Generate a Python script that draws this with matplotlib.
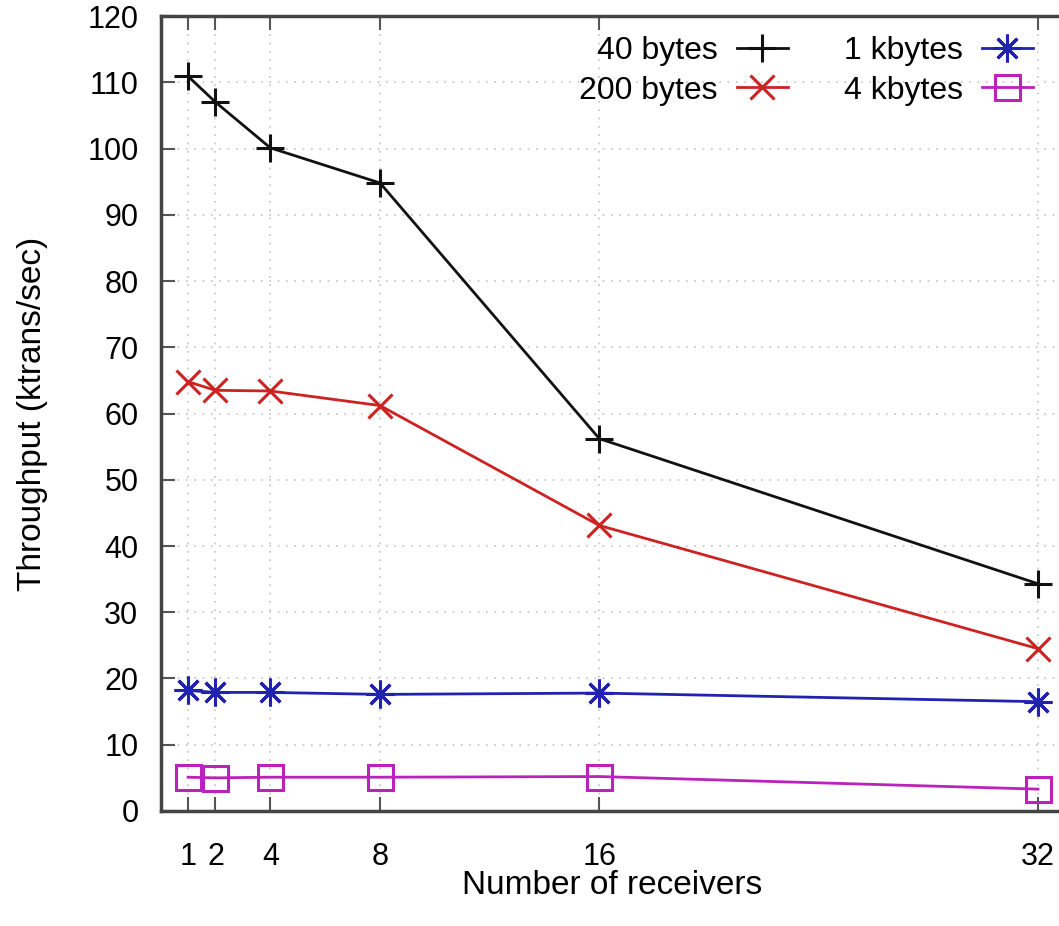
import matplotlib
matplotlib.use('Agg')
import matplotlib.pyplot as plt

# data
receivers = [1, 2, 4, 8, 16, 32]
tput_40b = [110.9, 107.0, 100.1, 94.8, 56.2, 34.3]
tput_200b = [64.8, 63.5, 63.4, 61.2, 43.1, 24.5]
tput_1k = [18.2, 17.9, 17.9, 17.6, 17.8, 16.5]
tput_4k = [5.1, 5.0, 5.1, 5.1, 5.2, 3.3]
labels = ['40 bytes', '200 bytes', '1 kbytes', '4 kbytes']

plt.rcParams['font.family'] = ['Liberation Sans', 'DejaVu Sans']

fig = plt.figure(figsize=(10.59, 9.26), dpi=100)
ax = fig.add_axes([0.1517, 0.1242, 0.8803, 0.8585])

lw = 2.0
ax.plot(receivers, tput_40b, color='#111111', lw=lw, marker='+', ms=20, mew=2.2, label=labels[0])
ax.plot(receivers, tput_200b, color='#cc2222', lw=lw, marker='x', ms=17, mew=2.2, label=labels[1])
ax.plot(receivers, tput_1k, color='#2222b0', lw=lw, marker=(8, 2, 0), ms=20, mew=2.2, label=labels[2])
ax.plot(receivers, tput_4k, color='#bb22bb', lw=lw, marker='s', ms=18, mew=2.2,
        fillstyle='none', label=labels[3])

ax.set_xlim(0, 34)
ax.set_ylim(0, 120)
ax.set_xticks(receivers)
ax.set_yticks(range(0, 121, 10))
ax.tick_params(direction='in', length=10, width=1.5, color='#555555', labelsize=22,
               top=True, right=True)
ax.tick_params(axis='x', pad=22)
ax.tick_params(axis='y', pad=16)
ax.grid(True, linestyle=(0, (1, 4)), color='#c4c4c4', lw=1.2)
for s in ax.spines.values():
    s.set_linewidth(2.5)
    s.set_color('#444444')

ax.set_ylabel('Throughput (ktrans/sec)', fontsize=24, labelpad=28)
ax.set_xlabel('Number of receivers', fontsize=24)
ax.xaxis.set_label_coords((612 - 160.6) / (34 * 27.42), -0.074)

ax.legend(loc='upper right', bbox_to_anchor=(1033 / 1059, 1 - 36 / 926),
          bbox_transform=fig.transFigure, ncol=2, frameon=False, markerfirst=False,
          fontsize=23, handlelength=1.6, handletextpad=0.6, columnspacing=1.75,
          labelspacing=0.3, borderpad=0, borderaxespad=0)

# title mostly outside the cropped figure, only descenders show
fig.text(808 / 1059, 1.0095, 'msg size)', ha='right', va='baseline', fontsize=32)

fig.savefig('out.png', dpi=100)
